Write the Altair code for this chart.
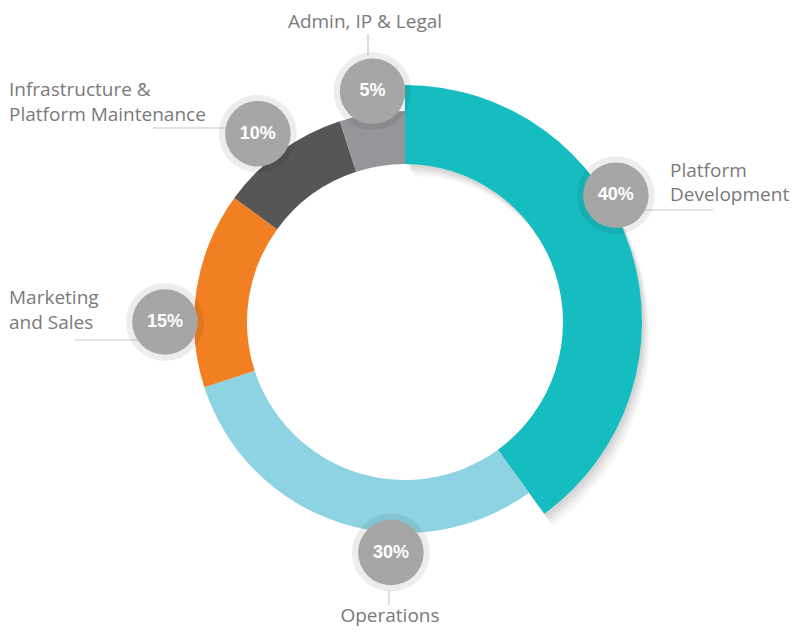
import math
import altair as alt
import pandas as pd

# ---- data ----
categories = ["Platform Development", "Operations", "Marketing and Sales",
              "Infrastructure & Platform Maintenance", "Admin, IP & Legal"]
shares = [40, 30, 15, 10, 5]
pct_labels = ["40%", "30%", "15%", "10%", "5%"]
colors = ["#15BDC1", "#8DD3E1", "#F28022", "#565656", "#96969A"]
outer_radius = [237, 211, 211, 211, 211]
inner_radius = 158
badge_angle = [59, 183.5, 270, 322, 352]      # degrees, clockwise from top
badge_dist = [246, 231, 240, 239, 233]

label_text = ["Platform", "Development", "Operations", "Marketing", "and Sales",
              "Infrastructure &", "Platform Maintenance", "Admin, IP & Legal"]
label_dx = [265, 265, -15, -396, -396, -396, -396, -40]
label_dy = [-151, -127, 294, -24, 1, -232, -207, -300]
label_align = ["left", "left", "center", "left", "left", "left", "left", "center"]

leader_x1 = [211, -16, -240, -147, -37]
leader_y1 = [-112, 269, 18, -194, -267]
leader_x2 = [308, -16, -330, -252, -37]
leader_y2 = [-112, 283, 18, -194, -288]

W, H = 784, 620          # plot size (page: 8px margin)
CX, CY = 397, 314        # ring centre inside the plot

# ---- tables ----
cum = [0]
for s in shares:
    cum.append(cum[-1] + s)
arcs = pd.DataFrame({
    "cat": categories,
    "share": shares,
    "t0": [c * 2 * math.pi / 100 for c in cum[:-1]],
    "t1": [c * 2 * math.pi / 100 for c in cum[1:]],
    "outer": outer_radius,
})
badges = pd.DataFrame({
    "pct": pct_labels,
    "bx": [d * math.sin(math.radians(a)) for a, d in zip(badge_angle, badge_dist)],
    "by": [-d * math.cos(math.radians(a)) for a, d in zip(badge_angle, badge_dist)],
})
labels = pd.DataFrame({"text": label_text, "lx": label_dx, "ly": label_dy, "al": label_align})
leaders = pd.DataFrame({"x1": leader_x1, "y1": leader_y1, "x2": leader_x2, "y2": leader_y2})

xs = alt.Scale(domain=[-CX, W - CX])
ys = alt.Scale(domain=[-CY, H - CY], reverse=True)

# soft shadow for the large segment
shadow_layers = []
for ox, oy, op in [(2, 3, 0.05), (4, 6, 0.05), (6, 9, 0.04), (8, 12, 0.03)]:
    shadow_layers.append(
        alt.Chart(arcs.iloc[:1]).mark_arc(innerRadius=inner_radius, color="black", opacity=op)
        .encode(theta=alt.Theta("t0:Q", scale=None), theta2="t1:Q",
                radius=alt.Radius("outer:Q", scale=None),
                x=alt.value(CX + ox), y=alt.value(CY + oy))
    )

ring = alt.Chart(arcs).mark_arc(innerRadius=inner_radius).encode(
    theta=alt.Theta("t0:Q", scale=None), theta2="t1:Q",
    radius=alt.Radius("outer:Q", scale=None),
    color=alt.Color("cat:N", scale=alt.Scale(domain=categories, range=colors), legend=None),
    x=alt.value(CX), y=alt.value(CY),
)

lines = alt.Chart(leaders).mark_rule(color="#C9C9C9", strokeWidth=1.2).encode(
    x=alt.X("x1:Q", scale=xs, axis=None), y=alt.Y("y1:Q", scale=ys, axis=None),
    x2="x2:Q", y2="y2:Q",
)

halo = alt.Chart(badges).mark_circle(color="black", opacity=0.07, size=math.pi * 44 ** 2).encode(
    x=alt.X("bx:Q", scale=xs, axis=None), y=alt.Y("by:Q", scale=ys, axis=None))
badge = alt.Chart(badges).mark_circle(color="#A6A6A6", opacity=1, size=math.pi * 37 ** 2).encode(
    x=alt.X("bx:Q", scale=xs, axis=None), y=alt.Y("by:Q", scale=ys, axis=None))
pct = alt.Chart(badges).mark_text(color="white", font="Liberation Sans", fontSize=18,
                                  fontWeight="bold", baseline="middle").encode(
    x=alt.X("bx:Q", scale=xs, axis=None), y=alt.Y("by:Q", scale=ys, axis=None), text="pct:N")

text_layers = []
for al in ["left", "center"]:
    text_layers.append(
        alt.Chart(labels[labels["al"] == al]).mark_text(
            color="#7A7A7A", font="Open Sans", fontSize=19, align=al, baseline="middle")
        .encode(x=alt.X("lx:Q", scale=xs, axis=None), y=alt.Y("ly:Q", scale=ys, axis=None),
                text="text:N")
    )

chart = alt.layer(*shadow_layers, ring, lines, halo, badge, pct, *text_layers).properties(
    width=W, height=H, autosize=alt.AutoSizeParams(type="none"), padding=0,
).configure_view(stroke=None)

chart.save("out.html", embed_options={"renderer": "svg", "actions": False})
